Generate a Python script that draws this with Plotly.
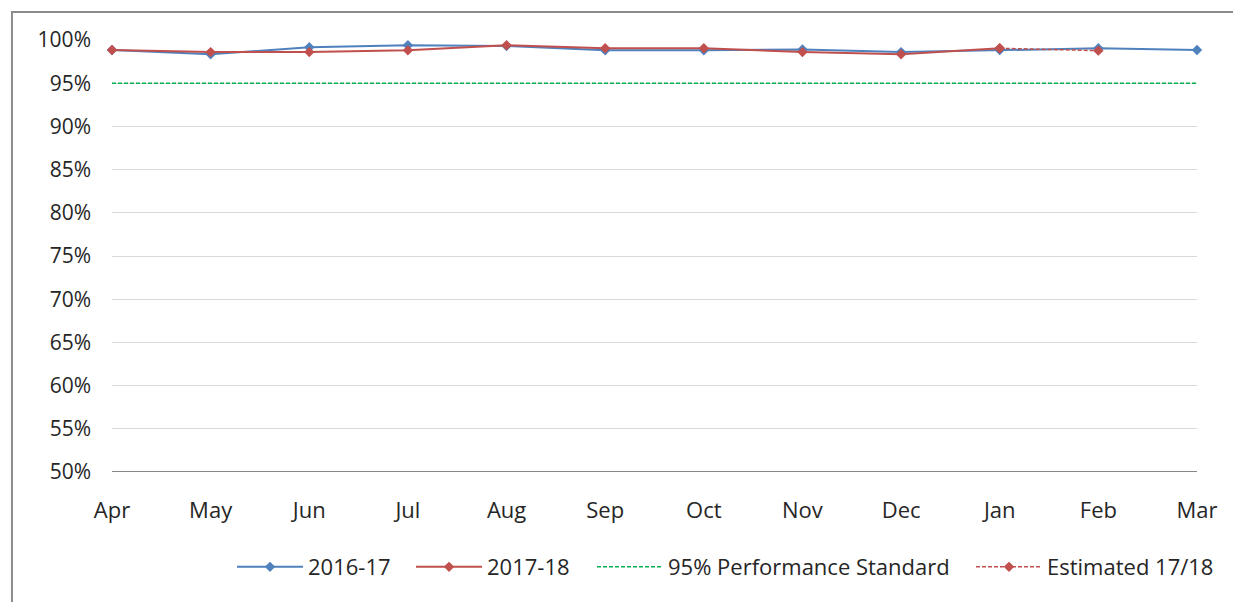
import plotly.graph_objects as go

months = ["Apr", "May", "Jun", "Jul", "Aug", "Sep", "Oct", "Nov", "Dec", "Jan", "Feb", "Mar"]
y2016_17 = [98.85, 98.35, 99.16, 99.4, 99.3, 98.8, 98.8, 98.9, 98.6, 98.85, 99.04, 98.85]
y2017_18 = [98.85, 98.6, 98.6, 98.8, 99.4, 99.04, 99.04, 98.6, 98.35, 99.04, None, None]
estimated = [None, None, None, None, None, None, None, None, None, 99.04, 98.77, None]
standard = [95] * 12

FONT = "'Open Sans', 'Liberation Sans', sans-serif"
BLUE = "#4f81bd"
RED = "#c0504d"
GREEN = "#00b050"

fig = go.Figure()
fig.add_trace(go.Scatter(x=months, y=y2016_17, name="2016-17", mode="lines+markers",
                         line=dict(color=BLUE, width=2), legend="legend",
                         marker=dict(symbol="diamond", size=8, color=BLUE), cliponaxis=False))
fig.add_trace(go.Scatter(x=months, y=y2017_18, name="2017-18", mode="lines+markers",
                         line=dict(color=RED, width=2), legend="legend2",
                         marker=dict(symbol="diamond", size=8, color=RED), cliponaxis=False))
fig.add_trace(go.Scatter(x=months, y=standard, name="95% Performance Standard", mode="lines",
                         line=dict(color=GREEN, width=1.5, dash="4px,2px"), legend="legend3",
                         cliponaxis=False))
fig.add_trace(go.Scatter(x=months, y=estimated, name="Estimated 17/18", mode="lines+markers",
                         line=dict(color=RED, width=1.5, dash="4px,2px"), legend="legend4",
                         marker=dict(symbol="diamond", size=8, color=RED), cliponaxis=False))

def leg(x):
    return dict(orientation="h", x=x, xanchor="left", y=-0.22, yanchor="middle",
                font=dict(size=22, color="#262626"), itemwidth=66,
                bgcolor="rgba(0,0,0,0)")

fig.update_layout(
    width=1241, height=602,
    margin=dict(l=104, r=52, t=32, b=138),
    paper_bgcolor="white", plot_bgcolor="white",
    font=dict(family=FONT, size=21, color="#262626"),
    showlegend=True,
    legend=leg(0.1106),
    legend2=leg(0.2756),
    legend3=leg(0.4424),
    legend4=leg(0.7917),
    xaxis=dict(type="category", range=[0, 11], showgrid=False, showline=False,
               ticks="", tickfont=dict(size=22), ticklabelstandoff=23, fixedrange=True),
    yaxis=dict(range=[50, 100], dtick=5, tick0=50, ticksuffix="%", showgrid=True,
               gridcolor="#d9d9d9", gridwidth=1, zeroline=False, showline=False,
               ticks="", tickfont=dict(size=21), ticklabelstandoff=20),
    shapes=[
        dict(type="line", xref="paper", yref="y", x0=0, x1=1, y0=50, y1=50,
             line=dict(color="#868686", width=2)),
        dict(type="rect", xref="paper", yref="paper", x0=-0.0922, x1=1.1, y0=-0.5, y1=1.0648,
             line=dict(color="#8c8c8c", width=2), layer="below"),
    ],
)

fig.write_html("out.html")
